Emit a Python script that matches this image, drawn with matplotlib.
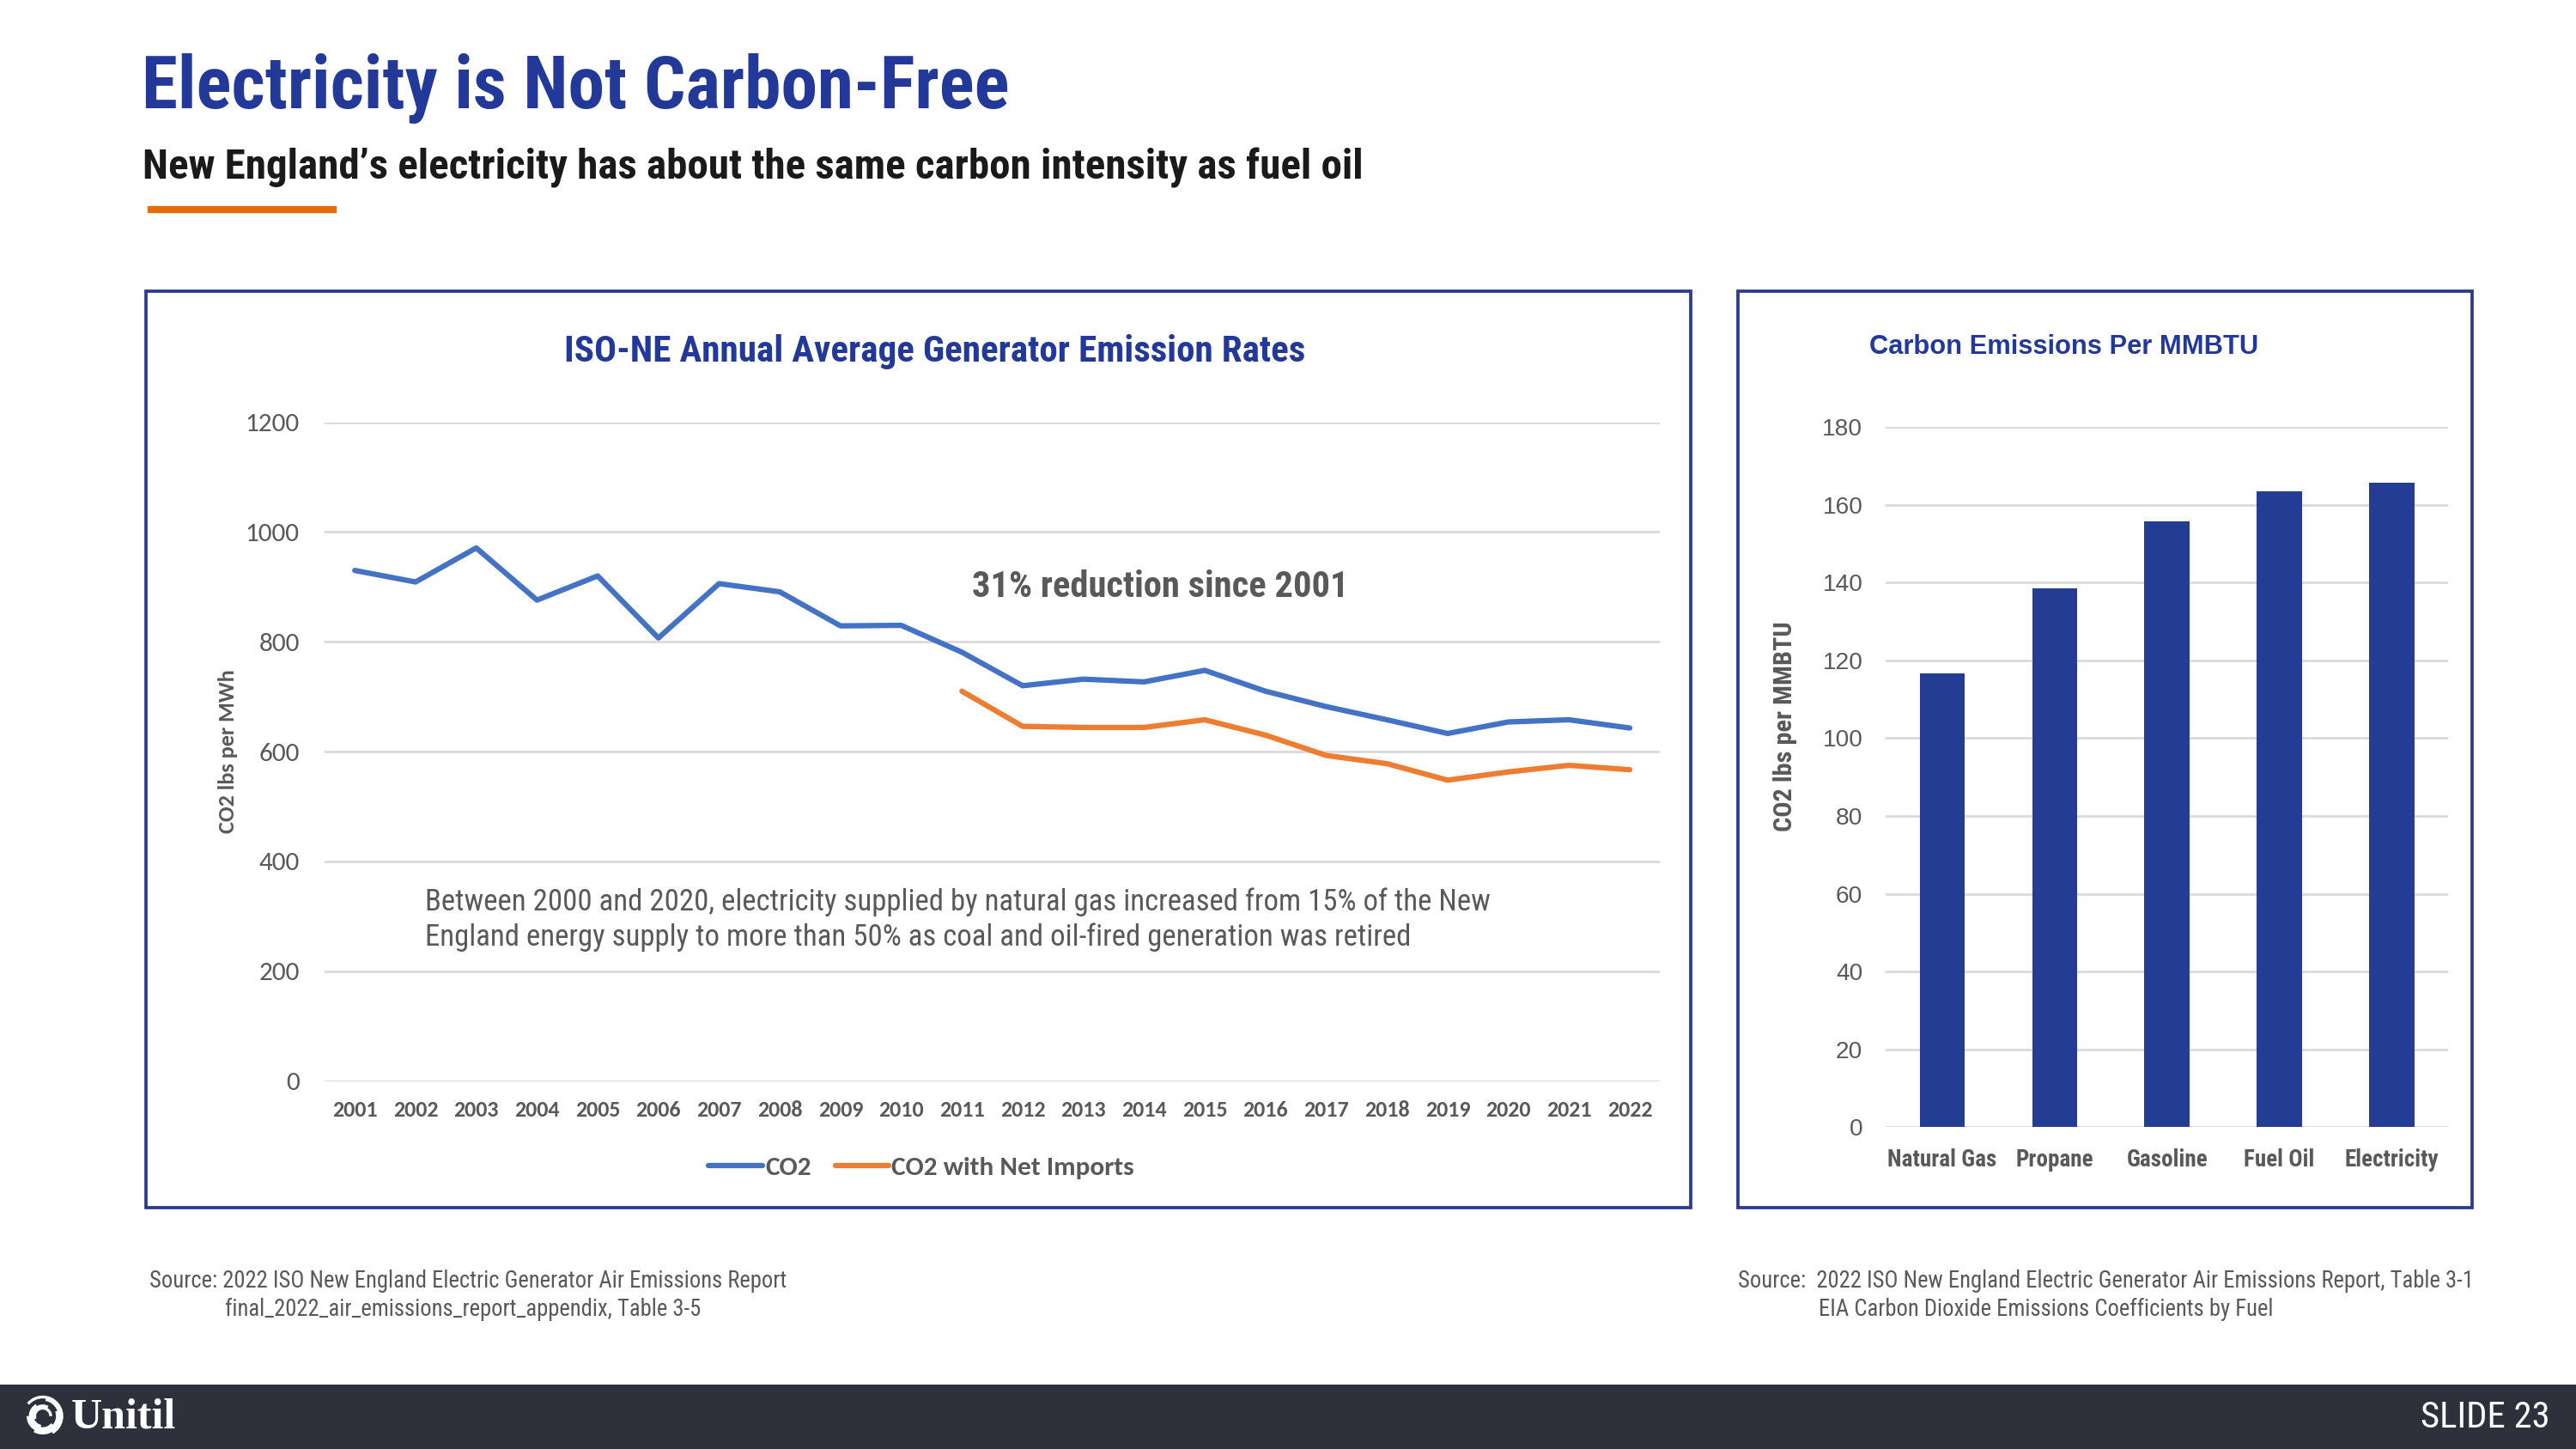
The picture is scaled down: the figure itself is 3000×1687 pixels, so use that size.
import matplotlib
matplotlib.use('Agg')
import matplotlib.pyplot as plt
from matplotlib import font_manager
from matplotlib.patches import Rectangle, Arc
from matplotlib.lines import Line2D

# Data
years = [str(y) for y in range(2001, 2023)]
co2 = [930, 909, 971, 876, 920, 807, 906, 891, 829, 830, 781,
       720, 732, 727, 748, 710, 682, 658, 633, 654, 658, 643]
net_import_years = [str(y) for y in range(2011, 2023)]
co2_net_imports = [710, 646, 644, 644, 658, 630, 593, 578, 548, 563, 575, 567]

fuels = ['Natural Gas', 'Propane', 'Gasoline', 'Fuel Oil', 'Electricity']
fuel_co2 = [116.7, 138.6, 155.8, 163.4, 165.6]

# Fonts: pick the first installed family from each list
names = {f.name for f in font_manager.fontManager.ttflist}
def pick(options, default='DejaVu Sans'):
    for o in options:
        if o in names:
            return o
    return default

NARROW = pick(['Liberation Sans Narrow', 'Arial Narrow', 'Roboto Condensed',
               'PT Sans Narrow', 'Archivo Narrow'])
SANS = pick(['Liberation Sans', 'Arimo', 'Arial'])
CAL = pick(['Carlito', 'Calibri', 'Lato'])
SERIF = pick(['Liberation Serif', 'Tinos', 'DejaVu Serif'])

BLUE_T = '#22399A'
GRAY = '#595959'
GRID = '#D9D9D9'
LINE_BLUE = '#4472C4'
LINE_ORANGE = '#ED7D31'
BAR = '#233D95'
BOX = '#2B3990'

W, H = 1568.0, 882.0
def fx(x):
    return x / W
def fy(y):
    return 1 - y / H

fig = plt.figure(figsize=(20, 11.2467), dpi=150)
fig.patch.set_facecolor('white')

# Header
fig.text(fx(86), fy(54), 'Electricity is Not Carbon-Free', fontsize=41, fontweight='bold',
         color=BLUE_T, family=NARROW, va='center', ha='left')
fig.text(fx(87), fy(102), 'New England\u2019s electricity has about the same carbon intensity as fuel oil',
         fontsize=23.5, fontweight='bold', color='#1A1A1A', family=NARROW, va='center', ha='left')
fig.add_artist(Line2D([fx(92), fx(203)], [fy(127.5), fy(127.5)], color='#E46C0A', lw=4,
                      transform=fig.transFigure))

# Panel boxes
for x0, x1 in [(89, 1029), (1058, 1505)]:
    fig.add_artist(Rectangle((fx(x0), fy(735)), fx(x1) - fx(x0), fy(177) - fy(735),
                             transform=fig.transFigure, fill=False, edgecolor=BOX, lw=1.8))

# Line chart
ax = fig.add_axes([fx(197.5), fy(658), fx(1010.5) - fx(197.5), fy(257) - fy(658)])
ax.plot(years, co2, color=LINE_BLUE, lw=3, label='CO2', solid_capstyle='round')
ax.plot(net_import_years, co2_net_imports, color=LINE_ORANGE, lw=3,
        label='CO2 with Net Imports', solid_capstyle='round')
ax.set_xlim(-0.5, len(years) - 0.5)
ax.set_ylim(0, 1200)
ax.set_yticks(range(0, 1201, 200))
ax.grid(axis='y', color=GRID, lw=1.3)
ax.set_axisbelow(True)
for s in ax.spines.values():
    s.set_visible(False)
ax.tick_params(length=0)
ax.tick_params(axis='y', pad=14, labelsize=15, labelcolor=GRAY)
ax.tick_params(axis='x', pad=11, labelsize=12.5, labelcolor=GRAY)
for t in ax.get_yticklabels():
    t.set_family(CAL)
for t in ax.get_xticklabels():
    t.set_family(CAL)
    t.set_fontweight('bold')
ax.set_ylabel('CO2 lbs per MWh', fontsize=12.6, fontweight='bold', color=GRAY, family=CAL,
              labelpad=4)
fig.text(fx(569), fy(214), 'ISO-NE Annual Average Generator Emission Rates', fontsize=20.7,
         fontweight='bold', color=BLUE_T, family=NARROW, ha='center', va='center')
ax.text(0.485, 0.75, '31% reduction since 2001', transform=ax.transAxes, fontsize=20.4,
        fontweight='bold', color=GRAY, family=NARROW, ha='left', va='center')
ax.text(0.075, 0.245, 'Between 2000 and 2020, electricity supplied by natural gas increased from 15% of the New\n'
        'England energy supply to more than 50% as coal and oil-fired generation was retired',
        transform=ax.transAxes, fontsize=16.7, color=GRAY, family=NARROW, ha='left', va='center',
        linespacing=1.25)
leg = ax.legend(loc='center', bbox_to_anchor=(0.447, (fy(711) - fy(658)) / (fy(257) - fy(658))),
                ncol=2, frameon=False, handlelength=2.0, handletextpad=0.1, columnspacing=0.9,
                prop={'family': CAL, 'weight': 'bold', 'size': 15})
for t in leg.get_texts():
    t.set_color(GRAY)

# Bar chart
bx = fig.add_axes([fx(1148), fy(686), fx(1490) - fx(1148), fy(260) - fy(686)])
bx.bar(fuels, fuel_co2, width=0.4, color=BAR)
bx.set_xlim(-0.5, len(fuels) - 0.5)
bx.set_ylim(0, 180)
bx.set_yticks(range(0, 181, 20))
bx.grid(axis='y', color=GRID, lw=1.3)
bx.set_axisbelow(True)
for s in bx.spines.values():
    s.set_visible(False)
bx.tick_params(length=0)
bx.tick_params(axis='y', pad=13, labelsize=13.5, labelcolor=GRAY)
bx.tick_params(axis='x', pad=12, labelsize=13, labelcolor=GRAY)
for t in bx.get_yticklabels():
    t.set_family(SANS)
for t in bx.get_xticklabels():
    t.set_family(NARROW)
    t.set_fontweight('bold')
bx.set_ylabel('CO2 lbs per MMBTU', fontsize=14.5, fontweight='bold', color=GRAY, family=NARROW)
bx.yaxis.set_label_coords((1094 - 1148) / (1490 - 1148), (686 - 442) / (686 - 260))
fig.text(fx(1138), fy(211), 'Carbon Emissions Per MMBTU', fontsize=14.8, fontweight='bold',
         color=BLUE_T, family=SANS, ha='left', va='center')

# Sources
fig.text(fx(91), fy(780), 'Source: 2022 ISO New England Electric Generator Air Emissions Report',
         fontsize=12.75, color=GRAY, family=NARROW, ha='left', va='center')
fig.text(fx(137), fy(797), 'final_2022_air_emissions_report_appendix, Table 3-5',
         fontsize=12.75, color=GRAY, family=NARROW, ha='left', va='center')
fig.text(fx(1058), fy(780), 'Source:  2022 ISO New England Electric Generator Air Emissions Report, Table 3-1',
         fontsize=12.75, color=GRAY, family=NARROW, ha='left', va='center')
fig.text(fx(1107), fy(797), 'EIA Carbon Dioxide Emissions Coefficients by Fuel',
         fontsize=12.75, color=GRAY, family=NARROW, ha='left', va='center')

# Footer
fig.add_artist(Rectangle((0, 0), 1, fy(843), transform=fig.transFigure, color='#2E303B', lw=0,
                         zorder=0.5))
fig.text(fx(1552), fy(863), 'SLIDE 23', fontsize=20.5, color='white', family=NARROW,
         ha='right', va='center')
fig.text(fx(43), fy(863), 'Unitil', fontsize=24, color='white', family=SERIF,
         fontweight='bold', ha='left', va='center')
lx = fig.add_axes([fx(13), fy(875), fx(26), fy(849) - fy(875)])
lx.set_zorder(5)
lx.set_xlim(-1.2, 1.2)
lx.set_ylim(-1.2, 1.2)
lx.set_aspect('equal')
lx.axis('off')
for i in range(6):
    lx.add_patch(Arc((0, 0), 0.9 + 0.25 * i, 0.9 + 0.25 * i, theta1=60 * i, theta2=60 * i + 200,
                     color='white', lw=1.6))

fig.savefig('out.png', dpi=150, facecolor='white')
